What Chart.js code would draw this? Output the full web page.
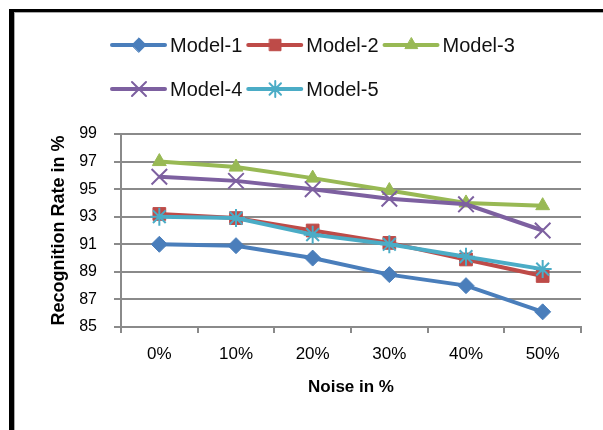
<!DOCTYPE html>
<html lang="en">
<head>
    <meta charset="UTF-8">
    <title>Recognition Rate vs Noise</title>
    <script src="https://cdn.jsdelivr.net/npm/chart.js@4/dist/chart.umd.min.js"></script>
    <style>
        * {
            margin: 0;
            padding: 0;
            box-sizing: border-box;
        }

        body {
            background: #fff;
            width: 603px;
            height: 430px;
            overflow: hidden;
            position: relative;
        }

        .chart-wrap {
            position: absolute;
            left: 0;
            top: 0;
            width: 603px;
            height: 430px;
        }

        .frame {
            position: absolute;
            left: 9px;
            top: 9px;
            width: 700px;
            height: 500px;
            border-left: 5px solid #000;
            border-top: 3px solid #000;
            box-shadow: inset 1px 1px 0 #aaa;
            pointer-events: none;
        }
    </style>
</head>
<body>
    <div class="chart-wrap">
        <canvas id="noiseChart" width="603" height="430"></canvas>
    </div>
    <div class="frame"></div>

    <script>
        // Data
        const noiseLevels = ['0%', '10%', '20%', '30%', '40%', '50%'];
        const model1 = [91.0, 90.9, 90.0, 88.8, 88.0, 86.1];
        const model2 = [93.2, 92.9, 92.0, 91.1, 89.9, 88.7];
        const model3 = [97.0, 96.6, 95.8, 94.9, 94.0, 93.8];
        const model4 = [95.9, 95.6, 95.0, 94.3, 93.9, 92.0];
        const model5 = [93.0, 92.9, 91.7, 91.0, 90.1, 89.2];
        const yTicks = [85, 87, 89, 91, 93, 95, 97, 99];

        const FONT = "'Liberation Sans', Arial, sans-serif";
        const GRID = '#8a8a8a';

        function series(label, data, color, style, radius, order) {
            return {
                label: label,
                data: data,
                borderColor: color,
                backgroundColor: color,
                borderWidth: 4,
                pointStyle: style,
                pointRadius: radius,
                pointBorderWidth: style === 'crossRot' || style === 'star' ? 2 : 1,
                pointBackgroundColor: color,
                pointBorderColor: color,
                tension: 0,
                order: order
            };
        }

        // Excel-style legend: line with marker, two rows, left aligned
        const lineLegend = {
            id: 'lineLegend',
            afterDraw(chart) {
                const ctx = chart.ctx;
                const rows = [[0, 1, 2], [3, 4]];
                const rowY = [45, 89];
                ctx.save();
                ctx.font = '20px ' + FONT;
                ctx.textBaseline = 'middle';
                rows.forEach((row, r) => {
                    let x = 112;
                    row.forEach(i => {
                        const ds = chart.data.datasets[i];
                        const y = rowY[r];
                        ctx.strokeStyle = ds.borderColor;
                        ctx.lineWidth = 4;
                        ctx.lineCap = 'round';
                        ctx.beginPath();
                        ctx.moveTo(x, y);
                        ctx.lineTo(x + 53, y);
                        ctx.stroke();
                        ctx.fillStyle = ds.borderColor;
                        ctx.lineWidth = ds.pointBorderWidth;
                        Chart.helpers.drawPoint(ctx, {
                            pointStyle: ds.pointStyle,
                            radius: ds.pointRadius * 0.9,
                            rotation: 0,
                            borderWidth: ds.pointBorderWidth
                        }, x + 27, y);
                        ctx.fillStyle = '#111';
                        ctx.fillText(ds.label, x + 58, y + 1);
                        x += 58 + ctx.measureText(ds.label).width + 6;
                    });
                });
                ctx.restore();
            }
        };

        const ctx = document.getElementById('noiseChart').getContext('2d');
        new Chart(ctx, {
            type: 'line',
            data: {
                labels: noiseLevels,
                datasets: [
                    series('Model-1', model1, '#4A7EBB', 'rectRot', 8, 4),
                    series('Model-2', model2, '#BE4B48', 'rect', 9, 3),
                    series('Model-3', model3, '#98B954', 'triangle', 8, 2),
                    series('Model-4', model4, '#7D60A0', 'crossRot', 11, 1),
                    series('Model-5', model5, '#4BACC6', 'star', 9, 0)
                ]
            },
            options: {
                responsive: false,
                animation: false,
                layout: {
                    padding: { top: 134, right: 22, bottom: 0, left: 0 }
                },
                plugins: {
                    legend: { display: false },
                    tooltip: { enabled: false }
                },
                scales: {
                    x: {
                        type: 'category',
                        offset: true,
                        border: { color: GRID, width: 2 },
                        grid: {
                            offset: true,
                            drawOnChartArea: false,
                            drawTicks: true,
                            tickLength: 6,
                            color: GRID,
                            lineWidth: 2
                        },
                        ticks: {
                            color: '#000',
                            font: { family: FONT, size: 17 },
                            padding: 11,
                            maxRotation: 0
                        },
                        title: {
                            display: true,
                            text: 'Noise in %',
                            color: '#000',
                            font: { family: FONT, size: 17, weight: 'bold' },
                            padding: { top: 0, bottom: 32 }
                        },
                        afterFit(scale) {
                            scale.height = 103;
                        }
                    },
                    y: {
                        min: 85,
                        max: 99,
                        afterBuildTicks(scale) {
                            scale.ticks = yTicks.map(v => ({ value: v }));
                        },
                        border: { color: GRID, width: 2 },
                        grid: {
                            color: GRID,
                            lineWidth: 2,
                            tickLength: 7
                        },
                        ticks: {
                            color: '#000',
                            font: { family: FONT, size: 16 },
                            padding: 17
                        },
                        title: {
                            display: true,
                            text: 'Recognition Rate in %',
                            color: '#000',
                            font: { family: FONT, size: 18, weight: 'bold' },
                            padding: { top: 48, bottom: 0 }
                        },
                        afterFit(scale) {
                            scale.width = 121;
                        }
                    }
                }
            },
            plugins: [lineLegend]
        });
    </script>
</body>
</html>
